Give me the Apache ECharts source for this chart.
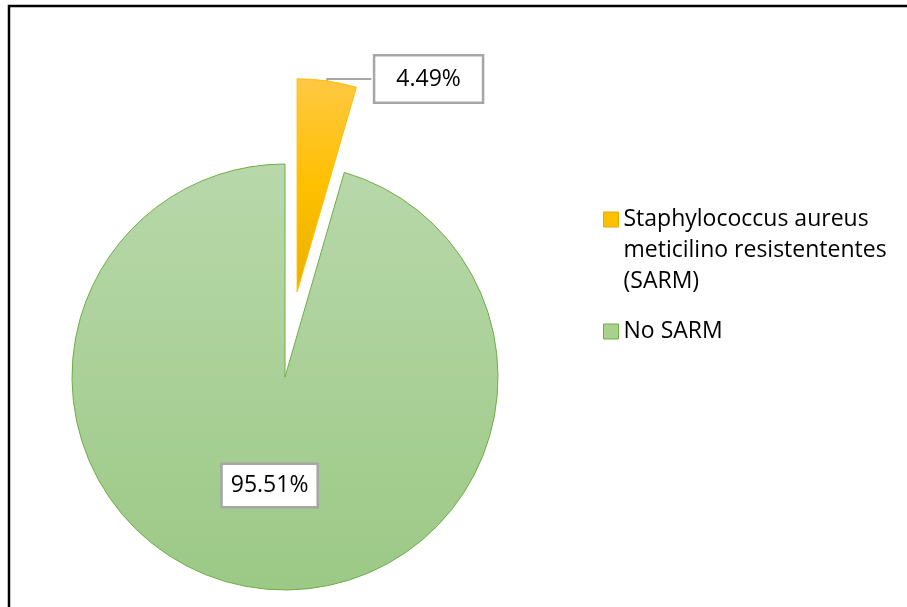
<!DOCTYPE html>
<html>
<head>
<meta charset="utf-8">
<script src="https://cdn.jsdelivr.net/npm/echarts@6/dist/echarts.min.js"></script>
<style>
  html, body { margin: 0; padding: 0; background: #fff; }
  #chart { width: 907px; height: 607px; }
</style>
</head>
<body>
<div id="chart"></div>
<script>
// Share of MRSA among Staphylococcus aureus isolates
const categories = [
  'Staphylococcus aureus\nmeticilino resistententes\n(SARM)',
  'No SARM'
];
const percents = [4.49, 95.51];

const FONT = '"Open Sans", "Liberation Sans", sans-serif';
const LINE_H = 31;

const chart = echarts.init(document.getElementById('chart'), null, { renderer: 'canvas' });

const yellowFill = new echarts.graphic.LinearGradient(0, 0, 0, 1, [
  { offset: 0, color: '#ffc843' },
  { offset: 0.5, color: '#ffc000' },
  { offset: 1, color: '#eab000' }
]);
const greenFill = new echarts.graphic.LinearGradient(0, 0, 0, 1, [
  { offset: 0, color: '#b8d8aa' },
  { offset: 1, color: '#9cc986' }
]);

const labelBox = {
  fontFamily: FONT,
  fontSize: 23,
  lineHeight: LINE_H,
  color: '#000',
  backgroundColor: '#fff',
  borderColor: '#a6a6a6',
  borderWidth: 2.5,
  formatter: p => percents[p.dataIndex].toFixed(2) + '%'
};

const option = {
  backgroundColor: '#fff',
  animation: false,
  graphic: [{
    type: 'rect',
    silent: true,
    shape: { x: 9, y: 6, width: 1000, height: 1000 },
    style: { fill: 'none', stroke: '#000', lineWidth: 2.5 }
  }],
  legend: {
    orient: 'vertical',
    left: 603,
    top: 142,
    padding: 0,
    icon: 'rect',
    itemWidth: 15,
    itemHeight: 15,
    itemGap: 19,
    selectedMode: false,
    // keep the swatch level with the first line of a wrapped entry
    formatter: name => {
      const extra = name.split('\n').length - 1;
      return '\n'.repeat(extra) + name;
    },
    textStyle: { fontFamily: FONT, fontSize: 23, lineHeight: LINE_H, color: '#000' },
    data: [
      {
        name: categories[0],
        itemStyle: { color: '#ffc000', borderColor: '#e3aa00', borderWidth: 1 }
      },
      {
        name: categories[1],
        itemStyle: { color: '#a9d18e', borderColor: '#70ad47', borderWidth: 1 }
      }
    ]
  },
  series: [{
    type: 'pie',
    center: [285, 377],
    radius: 213,
    startAngle: 90,
    clockwise: true,
    selectedMode: 'single',
    selectedOffset: 86,
    avoidLabelOverlap: false,
    emphasis: { disabled: true },
    labelLine: { show: false },
    data: [
      {
        name: categories[0],
        value: percents[0],
        selected: true,
        itemStyle: { color: yellowFill, borderColor: '#ffc000', borderWidth: 1 },
        label: Object.assign({
          show: true,
          position: 'outside',
          alignTo: 'none',
          distanceToLabelLine: 4,
          padding: [7, 21]
        }, labelBox),
        labelLine: {
          show: true,
          length: 2,
          length2: 44,
          smooth: false,
          lineStyle: { color: '#a6a6a6', width: 2 }
        }
      },
      {
        name: categories[1],
        value: percents[1],
        itemStyle: { color: greenFill, borderColor: '#70ad47', borderWidth: 1 },
        label: Object.assign({
          show: true,
          position: 'inside',
          padding: [5, 8]
        }, labelBox)
      }
    ]
  }]
};

chart.setOption(option);
</script>
</body>
</html>
